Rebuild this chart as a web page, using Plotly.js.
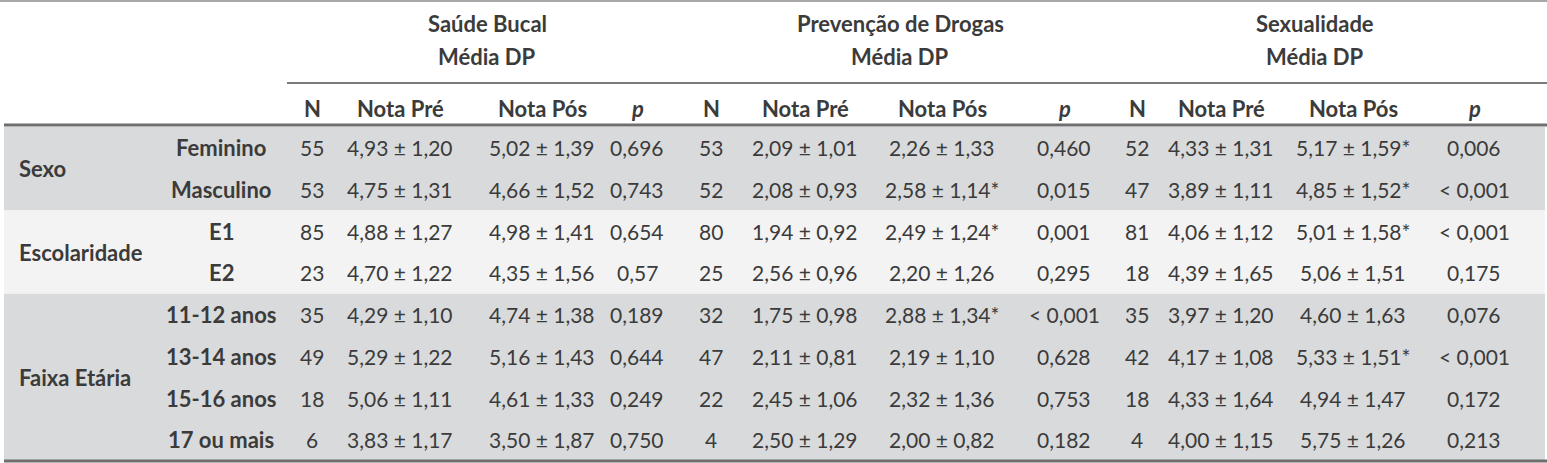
<!DOCTYPE html>
<html>
<head>
<meta charset="utf-8">
<script src="https://cdn.plot.ly/plotly-3.0.1.min.js"></script>
<style>
  html, body { margin: 0; padding: 0; background: #ffffff; }
  #chart { width: 1547px; height: 463px; }
</style>
</head>
<body>
<div id="chart"></div>
<script>
// ---------- DATA ----------
const categories = ["Sexo", "Escolaridade", "Faixa Etária"];
const categoryRows = [2, 2, 4];
const rowLabels = ["Feminino", "Masculino", "E1", "E2", "11-12 anos", "13-14 anos", "15-16 anos", "17 ou mais"];
const domains = ["Saúde Bucal", "Prevenção de Drogas", "Sexualidade"];
const subTitle = "Média DP";
const subHeaders = ["N", "Nota Pré", "Nota Pós", "p"];

// Saúde Bucal
const saudeN = [55, 53, 85, 23, 35, 49, 18, 6];
const saudePreMean = [4.93, 4.75, 4.88, 4.70, 4.29, 5.29, 5.06, 3.83];
const saudePreSD   = [1.20, 1.31, 1.27, 1.22, 1.10, 1.22, 1.11, 1.17];
const saudePosMean = [5.02, 4.66, 4.98, 4.35, 4.74, 5.16, 4.61, 3.50];
const saudePosSD   = [1.39, 1.52, 1.41, 1.56, 1.38, 1.43, 1.33, 1.87];
const saudePosSig  = [false, false, false, false, false, false, false, false];
const saudeP = ["0,696", "0,743", "0,654", "0,57", "0,189", "0,644", "0,249", "0,750"];

// Prevenção de Drogas
const drogasN = [53, 52, 80, 25, 32, 47, 22, 4];
const drogasPreMean = [2.09, 2.08, 1.94, 2.56, 1.75, 2.11, 2.45, 2.50];
const drogasPreSD   = [1.01, 0.93, 0.92, 0.96, 0.98, 0.81, 1.06, 1.29];
const drogasPosMean = [2.26, 2.58, 2.49, 2.20, 2.88, 2.19, 2.32, 2.00];
const drogasPosSD   = [1.33, 1.14, 1.24, 1.26, 1.34, 1.10, 1.36, 0.82];
const drogasPosSig  = [false, true, true, false, true, false, false, false];
const drogasP = ["0,460", "0,015", "0,001", "0,295", "< 0,001", "0,628", "0,753", "0,182"];

// Sexualidade
const sexN = [52, 47, 81, 18, 35, 42, 18, 4];
const sexPreMean = [4.33, 3.89, 4.06, 4.39, 3.97, 4.17, 4.33, 4.00];
const sexPreSD   = [1.31, 1.11, 1.12, 1.65, 1.20, 1.08, 1.64, 1.15];
const sexPosMean = [5.17, 4.85, 5.01, 5.06, 4.60, 5.33, 4.94, 5.75];
const sexPosSD   = [1.59, 1.52, 1.58, 1.51, 1.63, 1.51, 1.47, 1.26];
const sexPosSig  = [true, true, true, false, false, true, false, false];
const sexP = ["0,006", "< 0,001", "< 0,001", "0,175", "0,076", "< 0,001", "0,172", "0,213"];

// ---------- LAYOUT CONFIG (pixel geometry) ----------
const W = 1547, H = 463;
const FONT = "Lato, 'Open Sans', sans-serif";
const TXT = "#3b3b3b";
const FS_LABEL = 22, FS_NUM = 21;
const colX = [[312, 400, 542, 637], [711, 805, 942, 1064], [1137, 1221, 1353, 1474]];
const groupCenter = [487, 900, 1315];
const rowTop = 127, rowH = 41.7;
const catX = 17, labelX = 221;
const yTitle = 23, ySub = 56, yHead = 108;
const bandColors = ["#d9dadb", "#f3f3f3", "#d9dadb"];

function fmt(v) { return v.toFixed(2).replace(".", ","); }
function ms(m, s, sig) { return fmt(m) + " ± " + fmt(s) + (sig ? "*" : ""); }

const domainData = [
  {n: saudeN, pm: saudePreMean, ps: saudePreSD, qm: saudePosMean, qs: saudePosSD, sig: saudePosSig, p: saudeP},
  {n: drogasN, pm: drogasPreMean, ps: drogasPreSD, qm: drogasPosMean, qs: drogasPosSD, sig: drogasPosSig, p: drogasP},
  {n: sexN, pm: sexPreMean, ps: sexPreSD, qm: sexPosMean, qs: sexPosSD, sig: sexPosSig, p: sexP}
];

const annotations = [];
const shapes = [];
function txt(x, y, text, opts) {
  opts = opts || {};
  annotations.push({
    x: x, y: y, xref: "x", yref: "y", text: text, showarrow: false,
    xanchor: opts.anchor || "center", yanchor: "middle",
    font: {family: FONT, size: opts.size || FS_LABEL, color: TXT}
  });
}

// Bands
let r0 = 0;
categories.forEach((c, i) => {
  const y0 = rowTop + r0 * rowH;
  const y1 = rowTop + (r0 + categoryRows[i]) * rowH;
  shapes.push({type: "rect", xref: "x", yref: "y", x0: 4, x1: 1545, y0: y0, y1: y1,
    fillcolor: bandColors[i], line: {width: 0}, layer: "below"});
  txt(catX, (y0 + y1) / 2, "<b>" + c + "</b>", {anchor: "left"});
  r0 += categoryRows[i];
});

// Lines
shapes.push({type: "line", xref: "x", yref: "y", x0: 0, x1: W, y0: 1, y1: 1, line: {color: "#a8a8a8", width: 2}});
shapes.push({type: "line", xref: "x", yref: "y", x0: 287, x1: W, y0: 83, y1: 83, line: {color: "#7a7a7a", width: 2}});
shapes.push({type: "line", xref: "x", yref: "y", x0: 4, x1: W, y0: 125, y1: 125, line: {color: "#6e6e6e", width: 3}});
shapes.push({type: "line", xref: "x", yref: "y", x0: 4, x1: W, y0: 461, y1: 461, line: {color: "#6e6e6e", width: 3}});

// Headers
domains.forEach((d, g) => {
  txt(groupCenter[g], yTitle, "<b>" + d + "</b>");
  txt(groupCenter[g], ySub, "<b>" + subTitle + "</b>");
  subHeaders.forEach((h, k) => {
    const t = h === "p" ? "<b><i>p</i></b>" : "<b>" + h + "</b>";
    txt(colX[g][k], yHead, t);
  });
});

// Rows
rowLabels.forEach((lab, i) => {
  const yc = rowTop + (i + 0.5) * rowH;
  txt(labelX, yc, "<b>" + lab + "</b>");
  domainData.forEach((dd, g) => {
    txt(colX[g][0], yc, String(dd.n[i]), {size: FS_NUM});
    txt(colX[g][1], yc, ms(dd.pm[i], dd.ps[i], false), {size: FS_NUM});
    txt(colX[g][2], yc, ms(dd.qm[i], dd.qs[i], dd.sig[i]), {size: FS_NUM});
    txt(colX[g][3], yc, dd.p[i], {size: FS_NUM});
  });
});

const layout = {
  width: W, height: H,
  margin: {l: 0, r: 0, t: 0, b: 0},
  paper_bgcolor: "#ffffff", plot_bgcolor: "#ffffff",
  xaxis: {range: [0, W], visible: false, fixedrange: true},
  yaxis: {range: [H, 0], visible: false, fixedrange: true},
  showlegend: false,
  shapes: shapes,
  annotations: annotations
};

Plotly.newPlot("chart", [{x: [], y: [], type: "scatter", mode: "markers", hoverinfo: "skip"}], layout, {staticPlot: true, displayModeBar: false});
</script>
</body>
</html>
